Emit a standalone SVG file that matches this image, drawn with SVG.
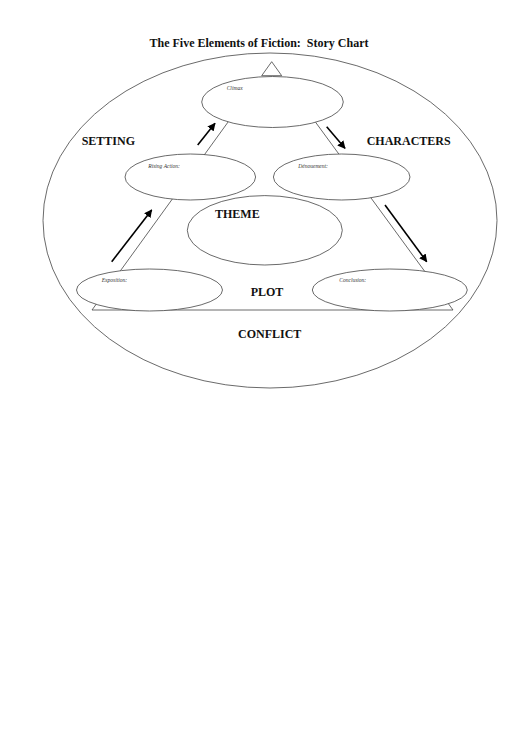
<svg xmlns="http://www.w3.org/2000/svg" width="530" height="749" viewBox="0 0 530 749">
<defs>
<style>
.ln{fill:none;stroke:#444;stroke-width:0.8}
.ov{fill:#fff;stroke:#444;stroke-width:0.8}
.ar{stroke:#000;stroke-width:1.6;fill:none;marker-end:url(#ah)}
.big{font-family:"Liberation Serif","Times New Roman",serif;font-weight:bold;font-size:12px;fill:#111}
.sm{font-family:"Liberation Serif","Times New Roman",serif;font-style:italic;font-size:5.5px;fill:#333}
</style>
<marker id="ah" viewBox="0 0 10 10" refX="9" refY="5" markerWidth="5" markerHeight="5" orient="auto" markerUnits="strokeWidth">
<path d="M0,0 L10,5 L0,10 z" fill="#000"/>
</marker>
</defs>
<rect width="530" height="749" fill="#fff"/>
<text class="big" x="259" y="47" text-anchor="middle" xml:space="preserve">The Five Elements of Fiction:  Story Chart</text>
<g id="outer"><ellipse class="ln" cx="270" cy="220.5" rx="227" ry="167.5"/></g>
<g id="plot-triangle">
<polygon class="ln" points="261.7,75.7 271.7,61.7 281.7,75.7"/>
<polygon class="ln" points="244,100 92,310 453,310 299.3,100"/>
</g>
<g id="connectors">
<line class="ar" x1="111.7" y1="261.7" x2="151.7" y2="210"/>
<line class="ar" x1="197.7" y1="145" x2="215" y2="123.3"/>
<line class="ar" x1="326.7" y1="126.7" x2="345" y2="148.3"/>
<line class="ar" x1="385" y1="205" x2="426.7" y2="261.7"/>
</g>
<g id="climax"><ellipse class="ov" cx="272.5" cy="102" rx="70.8" ry="25.5"/><text class="sm" x="226.7" y="90">Climax</text></g>
<g id="rising-action"><ellipse class="ov" cx="190.3" cy="177" rx="65.3" ry="23"/><text class="sm" x="148.3" y="167.7">Rising Action:</text></g>
<g id="denouement"><ellipse class="ov" cx="341.7" cy="177" rx="68.3" ry="23"/><text class="sm" x="298.3" y="167.7">Dénouement:</text></g>
<g id="theme"><ellipse class="ov" cx="264.8" cy="230.3" rx="77.5" ry="34.7"/><text class="big" x="215" y="218.3">THEME</text></g>
<g id="exposition"><ellipse class="ov" cx="149.5" cy="290" rx="73" ry="21"/><text class="sm" x="101.7" y="281.7">Exposition:</text></g>
<g id="conclusion"><ellipse class="ov" cx="389.8" cy="290" rx="77.5" ry="21"/><text class="sm" x="339.3" y="281.7">Conclusion:</text></g>
<g id="labels">
<text class="big" x="81.7" y="145">SETTING</text>
<text class="big" x="366.7" y="145">CHARACTERS</text>
<text class="big" x="250.7" y="296">PLOT</text>
<text class="big" x="238" y="337.7">CONFLICT</text>
</g>
</svg>
